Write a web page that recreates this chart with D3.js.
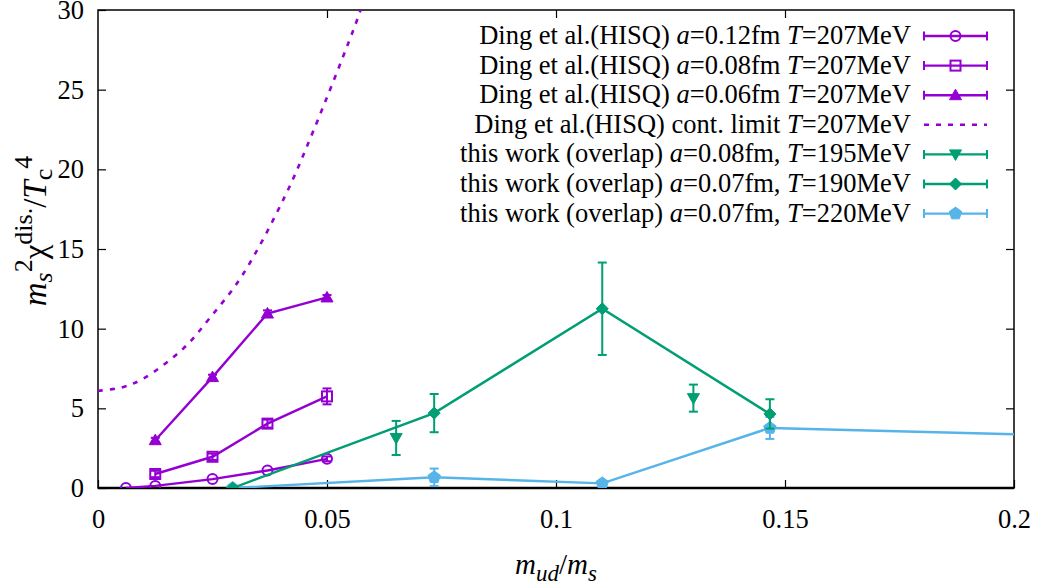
<!DOCTYPE html>
<html>
<head>
<meta charset="utf-8">
<script src="https://cdn.jsdelivr.net/npm/d3@7"></script>
<style>
  html, body { margin: 0; padding: 0; background: #fff; }
</style>
</head>
<body>
<svg id="chart" width="1038" height="585"></svg>
<script>
// ---- data ----
const xTicks = [0, 0.05, 0.1, 0.15, 0.2];
const xTickLabels = ["0", "0.05", "0.1", "0.15", "0.2"];
const yTicks = [0, 5, 10, 15, 20, 25, 30];
const yTickLabels = ["0", "5", "10", "15", "20", "25", "30"];

// Ding et al. (HISQ) a=0.12fm
const dingA12X = [0.0061, 0.0125, 0.025, 0.037, 0.05];
const dingA12Y = [0.0, 0.13, 0.56, 1.1, 1.83];
const dingA12E = [0.05, 0.06, 0.08, 0.1, 0.15];
// Ding et al. (HISQ) a=0.08fm
const dingA08X = [0.0125, 0.025, 0.037, 0.05];
const dingA08Y = [0.88, 1.96, 4.04, 5.75];
const dingA08E = [0.2, 0.2, 0.25, 0.5];
// Ding et al. (HISQ) a=0.06fm
const dingA06X = [0.0125, 0.025, 0.037, 0.05];
const dingA06Y = [3.0, 6.96, 10.95, 11.96];
const dingA06E = [0.15, 0.15, 0.2, 0.15];
// Ding et al. (HISQ) continuum limit (dashed)
const dingContX = [0.0, 0.005, 0.0098, 0.0186, 0.0245, 0.0314, 0.0408, 0.047, 0.0566, 0.058];
const dingContY = [6.1, 6.3, 6.85, 8.75, 10.7, 13.3, 18.3, 22.4, 29.4, 30.6];
// this work a=0.08fm T=195MeV (points only)
const ovA08X = [0.0651, 0.130];
const ovA08Y = [3.14, 5.64];
const ovA08E = [1.07, 0.85];
// this work a=0.07fm T=190MeV
const ovA07aX = [0.0294, 0.0734, 0.1101, 0.1467];
const ovA07aY = [0.0, 4.7, 11.25, 4.65];
const ovA07aE = [0.0, 1.2, 2.9, 0.92];
// this work a=0.07fm T=220MeV
const ovA07bX = [0.0294, 0.0734, 0.1101, 0.1467, 0.25];
const ovA07bY = [0.0, 0.67, 0.29, 3.77, 3.0];
const ovA07bE = [0.0, 0.55, 0.05, 0.69, 0.3];

const purple = "#9400d3", green = "#009e73", cyan = "#56b4e9";
const FONT = "'Liberation Serif', 'DejaVu Serif', serif";

// ---- layout ----
const svg = d3.select("#chart");
const L = 98, R = 1014, T = 10, B = 488;
const FS = 26.5;
const x = d3.scaleLinear().domain([0, 0.2]).range([L, R]);
const y = d3.scaleLinear().domain([0, 30]).range([B, T]);

svg.append("defs").append("clipPath").attr("id", "clip")
  .append("rect").attr("x", L).attr("y", T).attr("width", R - L).attr("height", B - T);

// axes (ticks inside, mirrored)
const tickLen = 8;
svg.append("g").attr("transform", `translate(0,${B})`)
  .call(d3.axisBottom(x).tickValues(xTicks).tickSize(-tickLen).tickPadding(21)
        .tickFormat((d, i) => xTickLabels[i]))
  .call(g => g.select(".domain").remove());
svg.append("g").attr("transform", `translate(0,${T})`)
  .call(d3.axisTop(x).tickValues(xTicks.slice(1, -1)).tickSize(-tickLen).tickFormat(""))
  .call(g => g.select(".domain").remove());
svg.append("g").attr("transform", `translate(${L},0)`)
  .call(d3.axisLeft(y).tickValues(yTicks).tickSize(-tickLen).tickPadding(14)
        .tickFormat((d, i) => yTickLabels[i]))
  .call(g => g.select(".domain").remove());
svg.append("g").attr("transform", `translate(${R},0)`)
  .call(d3.axisRight(y).tickValues(yTicks.slice(1, -1)).tickSize(-tickLen).tickFormat(""))
  .call(g => g.select(".domain").remove());
svg.selectAll("g").attr("font-family", FONT);
svg.selectAll(".tick line").attr("stroke", "#000").attr("stroke-width", 1.2);
svg.selectAll(".tick text").attr("font-size", FS).attr("font-family", FONT).attr("fill", "#000");

// frame
svg.append("rect").attr("x", L).attr("y", T).attr("width", R - L).attr("height", B - T)
  .attr("fill", "none").attr("stroke", "#000").attr("stroke-width", 1.5);
svg.append("line").attr("x1", L).attr("x2", R).attr("y1", B).attr("y2", B)
  .attr("stroke", "#000").attr("stroke-width", 2.5);

const plot = svg.append("g").attr("clip-path", "url(#clip)");

// ---- marker shapes ----
function marker(g, type, cx, cy, color) {
  const s = 5;
  if (type === "circle") {
    g.append("circle").attr("cx", cx).attr("cy", cy).attr("r", s)
      .attr("fill", "none").attr("stroke", color).attr("stroke-width", 2);
  } else if (type === "square") {
    g.append("rect").attr("x", cx - s).attr("y", cy - s).attr("width", 2 * s).attr("height", 2 * s)
      .attr("fill", "none").attr("stroke", color).attr("stroke-width", 2);
  } else {
    let pts;
    if (type === "tri") pts = [[0, -6], [6, 4.5], [-6, 4.5]];
    else if (type === "tridown") pts = [[0, 6], [6, -4.5], [-6, -4.5]];
    else if (type === "diamond") pts = [[0, -6], [6, 0], [0, 6], [-6, 0]];
    else if (type === "pent") pts = d3.range(5).map(i => {
      const a = -Math.PI / 2 + i * 2 * Math.PI / 5;
      return [6.5 * Math.cos(a), 6.5 * Math.sin(a)];
    });
    g.append("polygon").attr("points", pts.map(p => [cx + p[0], cy + p[1]].join(",")).join(" "))
      .attr("fill", color).attr("stroke", color).attr("stroke-width", 1);
  }
}

function errbar(g, cx, cy0, cy1, color) {
  const c = 4.5;
  g.append("line").attr("x1", cx).attr("x2", cx).attr("y1", cy0).attr("y2", cy1)
    .attr("stroke", color).attr("stroke-width", 2);
  [cy0, cy1].forEach(v => g.append("line").attr("x1", cx - c).attr("x2", cx + c)
    .attr("y1", v).attr("y2", v).attr("stroke", color).attr("stroke-width", 2));
}

function series(xs, ys, es, color, type, withLine) {
  const g = plot.append("g");
  const data = xs.map((v, i) => ({ x: v, y: ys[i], e: es[i] }));
  if (withLine) {
    g.append("path").datum(data)
      .attr("d", d3.line().x(d => x(d.x)).y(d => y(d.y)))
      .attr("fill", "none").attr("stroke", color).attr("stroke-width", 2.4);
  }
  data.forEach(d => {
    if (d.e > 0.12) errbar(g, x(d.x), y(d.y - d.e), y(d.y + d.e), color);
    marker(g, type, x(d.x), y(d.y), color);
  });
}

// continuum limit dashed curve
plot.append("path")
  .datum(dingContX.map((v, i) => [v, dingContY[i]]))
  .attr("d", d3.line().x(d => x(d[0])).y(d => y(d[1])).curve(d3.curveCatmullRom))
  .attr("fill", "none").attr("stroke", purple).attr("stroke-width", 2.6)
  .attr("stroke-dasharray", "5,7");

series(dingA12X, dingA12Y, dingA12E, purple, "circle", true);
series(dingA08X, dingA08Y, dingA08E, purple, "square", true);
series(dingA06X, dingA06Y, dingA06E, purple, "tri", true);
series(ovA07bX, ovA07bY, ovA07bE, cyan, "pent", true);
series(ovA07aX, ovA07aY, ovA07aE, green, "diamond", true);
series(ovA08X, ovA08Y, ovA08E, green, "tridown", false);

// ---- legend ----
const legendRows = [
  { parts: [["Ding et al.(HISQ) ", 0], ["a", 1], ["=0.12fm ", 0], ["T", 1], ["=207MeV", 0]], color: purple, type: "circle" },
  { parts: [["Ding et al.(HISQ) ", 0], ["a", 1], ["=0.08fm ", 0], ["T", 1], ["=207MeV", 0]], color: purple, type: "square" },
  { parts: [["Ding et al.(HISQ) ", 0], ["a", 1], ["=0.06fm ", 0], ["T", 1], ["=207MeV", 0]], color: purple, type: "tri" },
  { parts: [["Ding et al.(HISQ) cont. limit ", 0], ["T", 1], ["=207MeV", 0]], color: purple, type: "dash" },
  { parts: [["this work (overlap) ", 0], ["a", 1], ["=0.08fm, ", 0], ["T", 1], ["=195MeV", 0]], color: green, type: "tridown" },
  { parts: [["this work (overlap) ", 0], ["a", 1], ["=0.07fm, ", 0], ["T", 1], ["=190MeV", 0]], color: green, type: "diamond" },
  { parts: [["this work (overlap) ", 0], ["a", 1], ["=0.07fm, ", 0], ["T", 1], ["=220MeV", 0]], color: cyan, type: "pent" }
];
const lg = svg.append("g");
legendRows.forEach((r, i) => {
  const cy = 36 + i * 29.6;
  const t = lg.append("text").attr("x", 911).attr("y", cy + 8).attr("text-anchor", "end")
    .attr("font-size", FS).attr("font-family", FONT);
  r.parts.forEach(p => t.append("tspan").text(p[0]).attr("font-style", p[1] ? "italic" : "normal"));
  const x0 = 924, x1 = 987, xm = 955.5;
  if (r.type === "dash") {
    lg.append("line").attr("x1", x0).attr("x2", x1).attr("y1", cy).attr("y2", cy)
      .attr("stroke", r.color).attr("stroke-width", 2.6).attr("stroke-dasharray", "5,7");
  } else {
    lg.append("line").attr("x1", x0).attr("x2", x1).attr("y1", cy).attr("y2", cy)
      .attr("stroke", r.color).attr("stroke-width", 2.4);
    [x0, x1].forEach(v => lg.append("line").attr("x1", v).attr("x2", v).attr("y1", cy - 4.5).attr("y2", cy + 4.5)
      .attr("stroke", r.color).attr("stroke-width", 2));
    marker(lg, r.type, xm, cy, r.color);
  }
});

// ---- axis titles ----
const xl = svg.append("text").attr("x", 556).attr("y", 574).attr("text-anchor", "middle")
  .attr("font-size", 29).attr("font-family", FONT);
xl.append("tspan").attr("font-style", "italic").text("m");
xl.append("tspan").attr("font-style", "italic").attr("font-size", 23).attr("dy", 7).text("ud");
xl.append("tspan").attr("dy", -7).text("/");
xl.append("tspan").attr("font-style", "italic").text("m");
xl.append("tspan").attr("font-style", "italic").attr("font-size", 23).attr("dy", 7).text("s");

const yl = svg.append("text").attr("transform", "translate(46,231) rotate(-90)")
  .attr("text-anchor", "middle").attr("font-size", 33).attr("font-family", FONT);
yl.append("tspan").attr("font-style", "italic").text("m");
yl.append("tspan").attr("font-style", "italic").attr("font-size", 26).attr("dy", 6).text("s");
yl.append("tspan").attr("font-size", 26).attr("dy", -20).text("2");
yl.append("tspan").attr("dy", 14).text("χ");
yl.append("tspan").attr("font-size", 26).attr("dy", -14).text("dis.");
yl.append("tspan").attr("dy", 14).text("/");
yl.append("tspan").attr("font-style", "italic").text("T");
yl.append("tspan").attr("font-size", 26).attr("dy", 6).text("c");
yl.append("tspan").attr("font-size", 26).attr("dy", -20).text("4");
</script>
</body>
</html>
